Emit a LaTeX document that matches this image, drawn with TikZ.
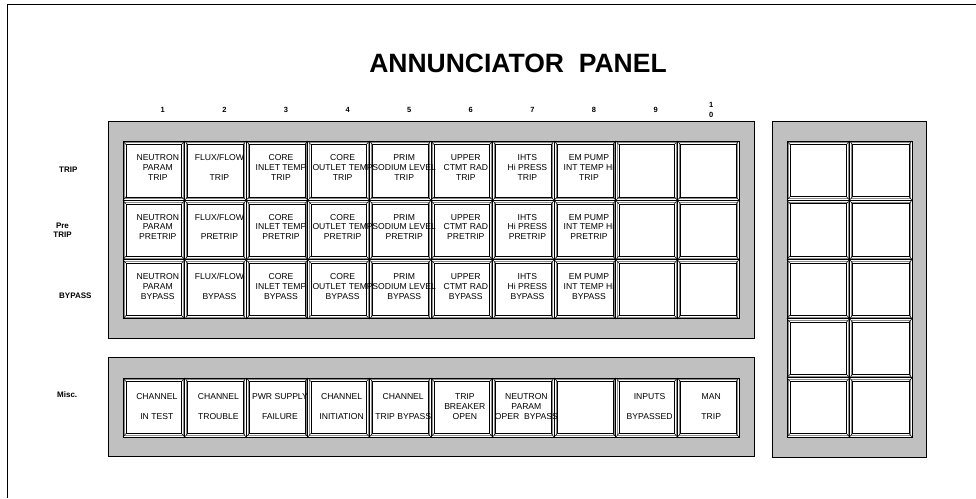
\documentclass[tikz,border=0pt]{standalone}
\usepackage{fontspec}
\setmainfont{Liberation Sans}
\definecolor{panelgray}{HTML}{C0C0C0}
\tikzset{
  frameline/.style={draw=black, line width=1pt},
  panel/.style={draw=black, line width=0.8pt, fill=panelgray},
  tileouter/.style={draw=black, line width=1pt, fill=white},
  tilebevel/.style={draw=black!45, line width=0.5pt},
  tileinner/.style={draw=black, line width=0.6pt},
  tilecorner/.style={draw=black, line width=0.5pt},
  tiletext/.style={font=\fontsize{8.6}{9.8}\selectfont, align=center, inner sep=0pt},
  rowlabel/.style={font=\bfseries\fontsize{8}{9}\selectfont, align=center, inner sep=0pt},
  collabel/.style={font=\bfseries\fontsize{7.5}{10.5}\selectfont, align=center, inner sep=0pt},
  titletext/.style={font=\bfseries\fontsize{26.5}{30}\selectfont, inner sep=0pt},
}
\newcommand\annTile[4]{%
  \draw[tileouter] (#1,#2) rectangle (#3,#4);
  \draw[tilebevel] (#1+1.6,#2+1.6) rectangle (#3-1.6,#4-1.6);
  \draw[tileinner] (#1+3,#2+3.5) rectangle (#3-3,#4-3.5);
  \draw[tilecorner] (#1,#2) -- (#1+3,#2+3.5);
  \draw[tilecorner] (#3,#2) -- (#3-3,#2+3.5);
  \draw[tilecorner] (#1,#4) -- (#1+3,#4-3.5);
  \draw[tilecorner] (#3,#4) -- (#3-3,#4-3.5);
}
\begin{document}
\begin{tikzpicture}[x=1pt,y=-1pt]
\useasboundingbox (0,0) rectangle (976,498);
\fill[white] (0,0) rectangle (976,498);
\draw[frameline] (7,498) -- (7,4.5) -- (976,4.5);

\node[titletext] (title) at (518,63) {ANNUNCIATOR\ \ PANEL};

% panels
\draw[panel] (108,121) rectangle (754,338);
\draw[panel] (108,357) rectangle (754,456);
\draw[panel] (772,121) rectangle (926,457);

% main grid tiles
\foreach \r in {0,1,2} {
  \foreach \c in {0,...,9} {
    \pgfmathsetmacro\xa{123+61.6*\c}
    \pgfmathsetmacro\ya{141+59.33*\r}
    \annTile{\xa}{\ya}{\xa+61.6}{\ya+59.33}
  }
}
% misc row tiles
\foreach \c in {0,...,9} {
  \pgfmathsetmacro\xa{123+61.6*\c}
  \annTile{\xa}{378}{\xa+61.6}{437}
}
% right panel tiles
\foreach \r in {0,...,4} {
  \foreach \c in {0,1} {
    \pgfmathsetmacro\xa{787+62.5*\c}
    \pgfmathsetmacro\ya{141+59.2*\r}
    \annTile{\xa}{\ya}{\xa+62.5}{\ya+59.2}
  }
}

% column numbers
\foreach \c in {1,...,9} {
  \node[collabel] (col\c) at ({123+61.6*(\c-1)+30.8+9},110) {\c};
}
\node[collabel] (col10) at ({123+61.6*9+30.8+3},110) {1\\0};

% row labels
\node[rowlabel, anchor=west] (lblTrip) at (59,170) {TRIP};
\node[rowlabel] (lblPre) at (62.5,230) {Pre\\TRIP};
\node[rowlabel, anchor=west] (lblBypass) at (59,296) {BYPASS};
\node[rowlabel, anchor=west] (lblMisc) at (57,395) {Misc.};

% main tile texts
\foreach \r/\w in {0/TRIP,1/PRETRIP,2/BYPASS} {
  \foreach \c/\t in {0/{NEUTRON\\PARAM}, 1/{FLUX/FLOW\\\mbox{}}, 2/{CORE\\INLET TEMP},
                     3/{CORE\\OUTLET TEMP}, 4/{PRIM\\SODIUM LEVEL}, 5/{UPPER\\CTMT RAD},
                     6/{IHTS\\Hi PRESS}, 7/{EM PUMP\\INT TEMP Hi}} {
    \node[tiletext] (t\r\c) at ({123+61.6*\c+30.8+4},{141+59.33*\r+29.66-3}) {\t\\\w};
  }
}

% misc tile texts
\foreach \c/\t in {0/{CHANNEL\\\mbox{}\\IN TEST}, 1/{CHANNEL\\\mbox{}\\TROUBLE},
                   2/{PWR SUPPLY\\\mbox{}\\FAILURE}, 3/{CHANNEL\\\mbox{}\\INITIATION},
                   4/{CHANNEL\\\mbox{}\\TRIP BYPASS}, 5/{TRIP\\BREAKER\\OPEN},
                   6/{NEUTRON\\PARAM\\OPER\ \ BYPASS}, 8/{INPUTS\\\mbox{}\\BYPASSED},
                   9/{MAN\\\mbox{}\\TRIP}} {
  \node[tiletext] (m\c) at ({123+61.6*\c+30.8+3},406.5) {\t};
}
\end{tikzpicture}
\end{document}
